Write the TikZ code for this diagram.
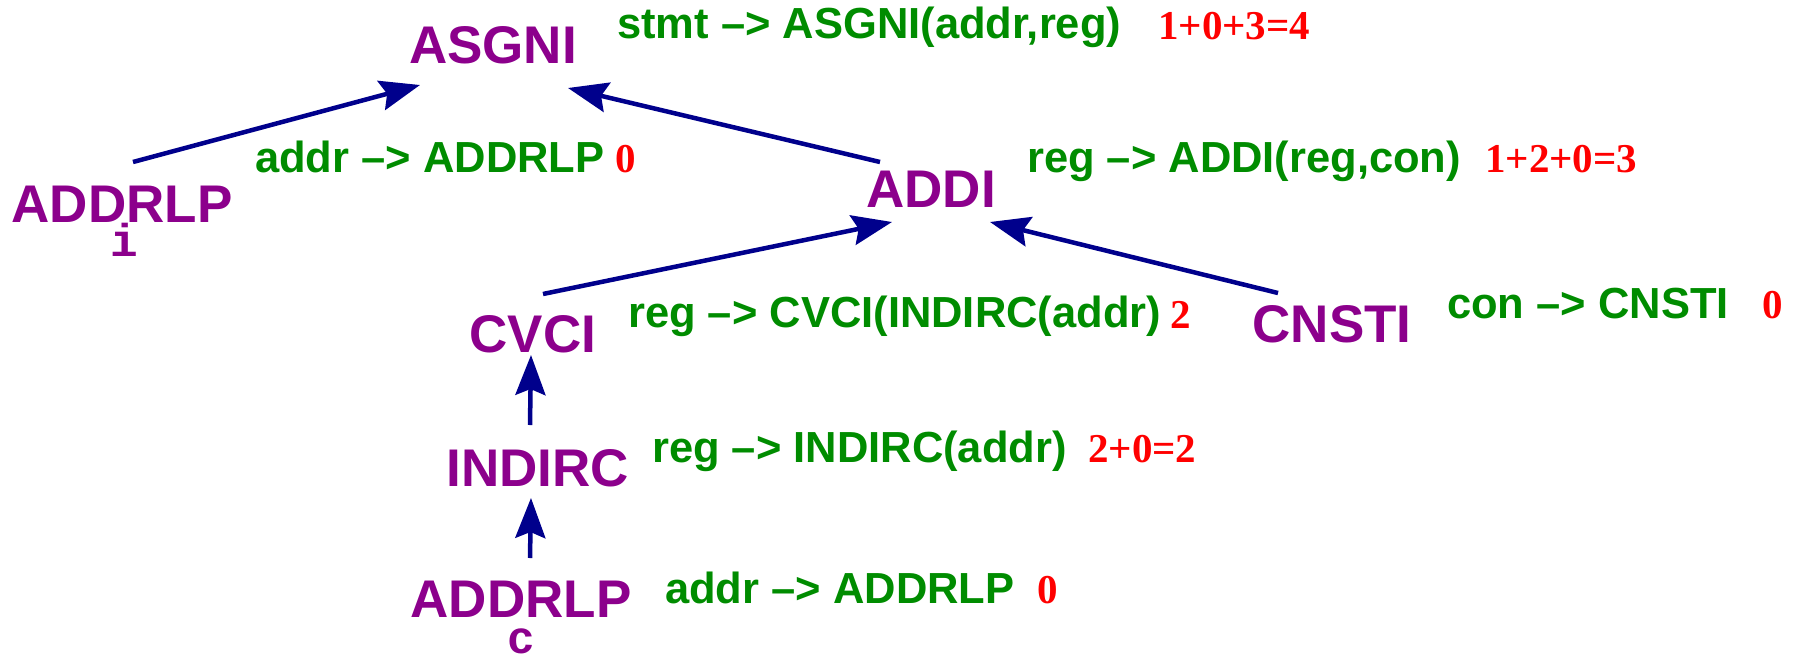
\documentclass[tikz,border=0pt]{standalone}
\usepackage{fontspec}
\setmainfont{Liberation Sans}
\newfontfamily\costfont{Liberation Serif}
\newfontfamily\subfont{Liberation Mono}
\usetikzlibrary{arrows.meta}
\definecolor{nodepurple}{RGB}{140,0,140}
\definecolor{rulegreen}{RGB}{0,140,0}
\definecolor{costred}{RGB}{255,0,0}
\definecolor{edgeblue}{RGB}{0,0,140}
\tikzset{
  opnode/.style={font=\fontsize{53}{60}\selectfont\bfseries, text=nodepurple, inner sep=0pt, anchor=base},
  subnode/.style={font=\subfont\bfseries\fontsize{46}{50}\selectfont, text=nodepurple, inner sep=0pt, anchor=base},
  rulelabel/.style={font=\fontsize{43.5}{50}\selectfont\bfseries, text=rulegreen, inner sep=0pt, anchor=base west},
  costlabel/.style={font=\costfont\bfseries\fontsize{41}{48}\selectfont, text=costred, inner sep=0pt, anchor=base west},
  edge/.style={draw=edgeblue, line width=4.5pt, -{Stealth[length=40pt,width=30pt,inset=6pt]}}
}
\begin{document}
\begin{tikzpicture}[x=1pt,y=-1pt]
\useasboundingbox (0,0) rectangle (1796,654);
% operator nodes
\node[opnode] (asgni)   at (493,63)  {ASGNI};
\node[opnode] (addrlpi) at (122,222) {ADDRLP};
\node[subnode] (subi)   at (124,256) {i};
\node[opnode] (addi)    at (931,207) {ADDI};
\node[opnode] (cvci)    at (533,352) {CVCI};
\node[opnode] (cnsti)   at (1332,342) {CNSTI};
\node[opnode] (indirc)  at (538,486) {INDIRC};
\node[opnode] (addrlpc) at (521,617) {ADDRLP};
\node[subnode] (subc)   at (521,653) {c};
% rules
\node[rulelabel] (r1) at (617,38)  {stmt --> ASGNI(addr,reg)};
\node[costlabel] (c1) at (1158,39) {1+0+3=4};
\node[rulelabel] (r2) at (255,172) {addr --> ADDRLP};
\node[costlabel] (c2) at (615,172) {0};
\node[rulelabel] (r3) at (1027,172) {reg --> ADDI(reg,con)};
\node[costlabel] (c3) at (1485,172) {1+2+0=3};
\node[rulelabel] (r4) at (628,327) {reg --> CVCI(INDIRC(addr)};
\node[costlabel] (c4) at (1170,328) {2};
\node[rulelabel] (r5) at (1447,318) {con --> CNSTI};
\node[costlabel] (c5) at (1762,318) {0};
\node[rulelabel] (r6) at (652,462) {reg --> INDIRC(addr)};
\node[costlabel] (c6) at (1088,462) {2+0=2};
\node[rulelabel] (r7) at (665,603) {addr --> ADDRLP};
\node[costlabel] (c7) at (1037,603) {0};
% connectors
\draw[edge] ([shift={(11,-60)}]addrlpi.base) -- ([shift={(-73,22)}]asgni.base);
\draw[edge] ([shift={(-51,-45)}]addi.base) -- ([shift={(75,25)}]asgni.base);
\draw[edge] ([shift={(10,-58)}]cvci.base) -- ([shift={(-39,15)}]addi.base);
\draw[edge] ([shift={(-54,-49)}]cnsti.base) -- ([shift={(59,15)}]addi.base);
\draw[edge] ([shift={(-8,-61)}]indirc.base) -- ([shift={(-2,3)}]cvci.base);
\draw[edge] ([shift={(9,-59)}]addrlpc.base) -- ([shift={(-7,12)}]indirc.base);
\end{tikzpicture}
\end{document}
